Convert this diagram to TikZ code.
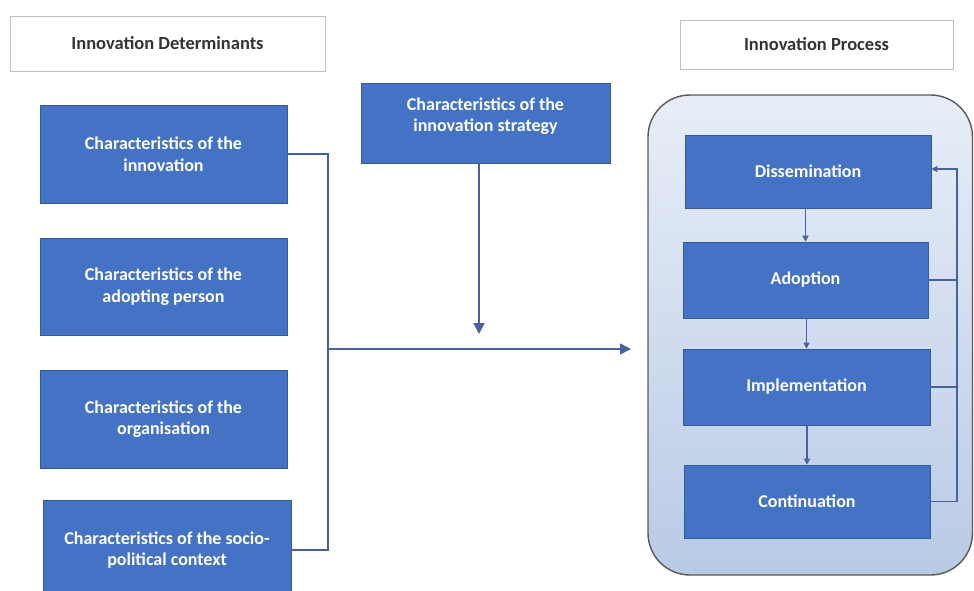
\documentclass[tikz,border=0pt]{standalone}
\usepackage{fontspec}
\setmainfont{Carlito}
\usetikzlibrary{arrows.meta,positioning}

\definecolor{boxblue}{HTML}{4472C4}
\definecolor{lineblue}{HTML}{4862A0}
\definecolor{panetop}{HTML}{E8EEF7}
\definecolor{panebot}{HTML}{B9CAE6}

\tikzset{
  detbox/.style={draw=boxblue!80!black,line width=0.6pt,fill=boxblue,text=white,
    font=\fontsize{18}{21.5}\selectfont\bfseries,align=center,inner sep=2pt},
  headbox/.style={draw=black!25,line width=1pt,fill=white,
    font=\fontsize{18.5}{21}\selectfont\bfseries,text=black!80},
  link/.style={draw=lineblue,line width=1.6pt},
}

\begin{document}
\begin{tikzpicture}[x=1pt,y=-1pt,>={Triangle[length=11pt,width=11pt]}]
\useasboundingbox (0,0) rectangle (974,590);

% headings
\node[headbox,minimum width=315pt,minimum height=55pt] (dethead) at (167.5,43.5) {Innovation Determinants};
\node[headbox,minimum width=273pt,minimum height=49pt] (prohead) at (816.5,44.5) {Innovation Process};

% determinants
\node[detbox,minimum width=247pt,minimum height=98pt] (innov) at (163.5,154) {Characteristics of the\\innovation};
\node[detbox,minimum width=247pt,minimum height=97pt] (person) at (163.5,286.5) {Characteristics of the\\adopting person};
\node[detbox,minimum width=247pt,minimum height=98pt] (organ) at (163.5,419) {Characteristics of the\\organisation};
\node[detbox,minimum width=248pt,minimum height=100pt] (socio) at (167,550) {Characteristics of the socio-\\political context};
\node[detbox,minimum width=249pt,minimum height=80pt] (strat) at (485.5,123) {Characteristics of the\\innovation strategy\\[-5pt]};

% process panel
\draw[draw=black!65,line width=1.4pt,rounded corners=42pt,top color=panetop,bottom color=panebot]
  (648,95) rectangle (972.5,575);

\node[detbox,minimum width=246pt,minimum height=73pt] (dissem) at (808,171.5) {Dissemination};
\node[detbox,minimum width=245pt,minimum height=76pt] (adopt) at (805.5,280) {Adoption};
\node[detbox,minimum width=247pt,minimum height=76pt] (implem) at (806.5,387) {Implementation};
\node[detbox,minimum width=246pt,minimum height=73pt] (contin) at (807,501.5) {Continuation};

% connectors
\coordinate (brk) at (328,349);
\coordinate (tip) at (631,349);
\coordinate (stop) at (479,334);
\coordinate (fb) at (957,169);

\path[link] (innov.east) -| (brk) |- (socio.east);
\path[link,->] (brk) -- (tip);
\path[link,->] (strat.south -| stop) -- (stop);

\begin{scope}[>={Triangle[length=6pt,width=6pt]},link/.append style={line width=1.2pt}]
\path[link,->] (dissem.south -| adopt) -- (adopt.north);
\path[link,->] (adopt.south -| implem) -- (implem.north);
\path[link,->] (implem.south -| contin) -- (contin.north);
\path[link,->] (contin.east) -| (fb) -- (dissem.east |- fb);
\path[link] (adopt.east) -- (adopt.east -| fb);
\path[link] (implem.east) -- (implem.east -| fb);
\end{scope}
\end{tikzpicture}
\end{document}
